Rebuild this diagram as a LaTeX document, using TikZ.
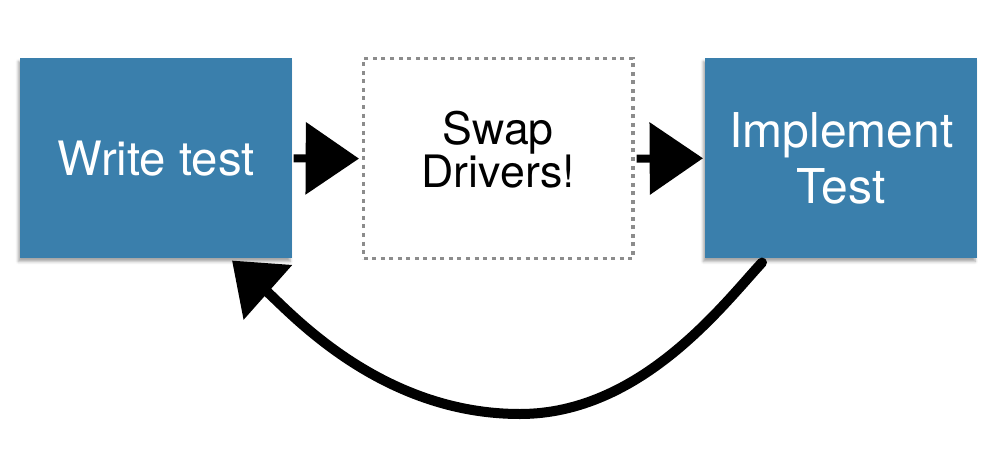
\documentclass[tikz,border=0pt]{standalone}
\usepackage{fontspec}
\setmainfont{TeX Gyre Heros}
\usetikzlibrary{arrows.meta,calc,shadows.blur}
\definecolor{boxblue}{RGB}{58,127,172}
\definecolor{dotgray}{RGB}{140,140,140}
\tikzset{
  bluebox/.style={fill=boxblue, text=white, minimum width=204pt, minimum height=150pt,
    anchor=north west, inner sep=0pt, align=center,
    blur shadow={shadow xshift=-1.5pt, shadow yshift=-2.5pt, shadow blur radius=2pt, shadow opacity=35}},
  dotbox/.style={draw=dotgray, line width=2.4pt, dash pattern=on 3pt off 3.4pt,
    minimum width=202pt, minimum height=150pt, anchor=north west, inner sep=0pt,
    align=center},
  smallarrow/.style={line width=6pt, -{Triangle[length=40pt,width=53pt]}, line join=round},
  bigarrow/.style={line width=7.5pt, -{Triangle[length=36pt,width=53pt]}, line join=round, line cap=round}
}
\begin{document}
\begin{tikzpicture}[x=0.75pt,y=-0.75pt]
\useasboundingbox (0,0) rectangle (1008,468);
\node[bluebox, font=\fontsize{35.5}{40}\selectfont] (L) at (20,58) {Write test};
\node[dotbox, font=\fontsize{33.5}{32}\selectfont, text depth=14pt] (M) at (362,57) {Swap\\Drivers!};
\node[bluebox, font=\fontsize{36}{42}\selectfont] (R) at (705,58) {Implement\\Test};
\draw[smallarrow] ($(L.east)+(1,0)$) -- ($(M.west)+(-3,0)$);
\draw[smallarrow] ($(M.east)+(2,0)$) -- ($(R.west)+(-2,0)$);
\coordinate (s) at ($(R.south west)+(57,4)$);
\coordinate (b) at (520,414);
\coordinate (e) at ($(L.south west)+(212,2)$);
\draw[bigarrow] (s) .. controls (722,306) and (640,414) .. (b)
  .. controls (380,414) and (290,312) .. (e);
\end{tikzpicture}
\end{document}
